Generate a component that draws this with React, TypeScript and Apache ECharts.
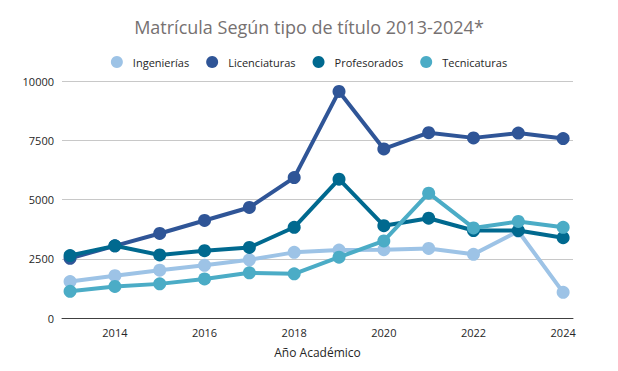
import React, { useEffect, useRef } from "react";
import * as echarts from "echarts";

const years = [2013, 2014, 2015, 2016, 2017, 2018, 2019, 2020, 2021, 2022, 2023, 2024];
const xTickLabels = [2014, 2016, 2018, 2020, 2022, 2024];
const seriesNames = ["Ingenierías", "Licenciaturas", "Profesorados", "Tecnicaturas"];
const ingenierias = [1536, 1783, 2016, 2222, 2455, 2770, 2866, 2881, 2935, 2688, 3662, 1084];
const licenciaturas = [2520, 3045, 3567, 4115, 4664, 5926, 9560, 7133, 7819, 7600, 7805, 7572];
const profesorados = [2634, 3045, 2661, 2840, 2977, 3827, 5857, 3896, 4211, 3690, 3690, 3388];
const tecnicaturas = [1125, 1330, 1440, 1646, 1906, 1865, 2565, 3251, 5267, 3800, 4074, 3827];
const colors = ["#9DC3E6", "#2F5597", "#00698F", "#4BACC6"];

const seriesValues = [ingenierias, licenciaturas, profesorados, tecnicaturas];

export default function App() {
  const ref = useRef<HTMLDivElement>(null);
  useEffect(() => {
    if (!ref.current) return;
    const chart = echarts.init(ref.current, undefined, { renderer: "svg" });
    chart.setOption({
      animation: false,
      color: colors,
      textStyle: { fontFamily: "Open Sans" },
      title: {
        text: "Matrícula Según tipo de título 2013-2024*",
        left: "center",
        top: 5,
        textStyle: { color: "#767171", fontSize: 18, fontWeight: "normal", fontFamily: "Open Sans" },
      },
      legend: {
        top: 43,
        left: "center",
        icon: "circle",
        itemWidth: 12,
        itemHeight: 12,
        itemGap: 17,
        textStyle: { color: "#262626", fontSize: 11, fontFamily: "Open Sans", padding: [0, 0, 0, 5] },
        data: seriesNames,
      },
      grid: { left: 54, right: 37, top: 73, bottom: 39, containLabel: false },
      xAxis: {
        type: "value",
        min: 2012.82,
        max: 2024.22,
        name: "Año Académico",
        nameLocation: "middle",
        nameGap: 28,
        nameTextStyle: { color: "#262626", fontSize: 12, fontFamily: "Open Sans" },
        axisLine: { show: true, lineStyle: { color: "#404040", width: 1 } },
        axisTick: { show: false },
        splitLine: { show: false },
        axisLabel: {
          customValues: xTickLabels,
          color: "#262626",
          fontSize: 11,
          margin: 9,
          formatter: (v: number) => String(v),
        },
      },
      yAxis: {
        type: "value",
        min: 0,
        max: 10000,
        interval: 2500,
        axisLine: { show: false },
        axisTick: { show: false },
        splitLine: { lineStyle: { color: "#C8C8C8", width: 1 } },
        axisLabel: { color: "#262626", fontSize: 11, margin: 8, formatter: (v: number) => String(v) },
      },
      series: seriesNames.map((name, i) => ({
        name,
        type: "line",
        data: years.map((y, j) => [y, seriesValues[i][j]]),
        symbol: "circle",
        symbolSize: 13,
        lineStyle: { width: 4, color: colors[i] },
        itemStyle: { color: colors[i] },
        z: 2 + i,
      })),
    });
    return () => chart.dispose();
  }, []);
  return <div ref={ref} style={{ width: 602, height: 355 }} />;
}
